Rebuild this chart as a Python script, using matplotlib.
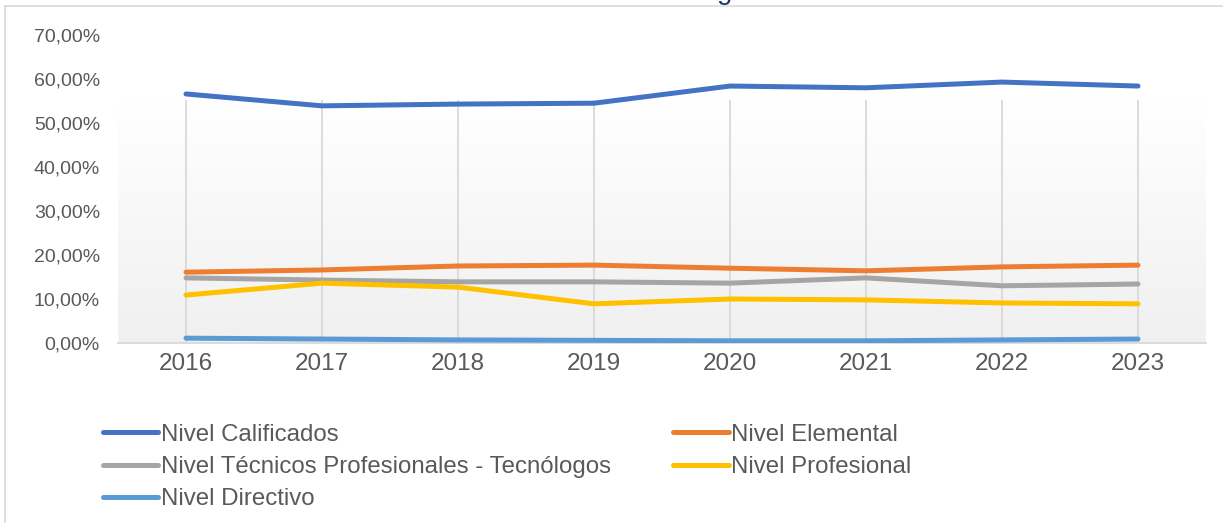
import numpy as np
import matplotlib
matplotlib.use('Agg')
import matplotlib.pyplot as plt
from matplotlib.ticker import FuncFormatter, MultipleLocator

# datos (fracciones)
years = ["2016", "2017", "2018", "2019", "2020", "2021", "2022", "2023"]
calificados = [0.566, 0.539, 0.543, 0.545, 0.584, 0.580, 0.593, 0.584]
elemental = [0.161, 0.166, 0.175, 0.177, 0.170, 0.164, 0.173, 0.177]
tecnicos = [0.148, 0.143, 0.139, 0.139, 0.136, 0.148, 0.130, 0.134]
profesional = [0.109, 0.136, 0.127, 0.089, 0.100, 0.098, 0.091, 0.089]
directivo = [0.011, 0.009, 0.007, 0.006, 0.005, 0.005, 0.007, 0.009]

plt.rcParams['font.family'] = ['Liberation Sans', 'DejaVu Sans']
TXT = '#595959'

fig = plt.figure(figsize=(12.23, 5.23), dpi=100)
ax = fig.add_axes([118 / 1223, 1 - 343 / 523, (1206 - 118) / 1223, (343 - 35) / 523])

x = np.arange(len(years))
ax.set_xlim(-0.5, len(years) - 0.5)
ax.set_ylim(0, 0.70)

# fondo degradado (solo cubre la parte baja, como en el original)
grad_top = 0.552
grad = np.linspace(1.0, 0.0, 100).reshape(-1, 1)
ax.imshow(grad, extent=(-0.5, len(years) - 0.5, 0, grad_top), aspect='auto',
          cmap=matplotlib.colors.LinearSegmentedColormap.from_list('g', ['#f0f0f0', '#ffffff']),
          vmin=0, vmax=1, zorder=0, origin='upper')
ax.vlines(x, 0, grad_top, color='#d9d9d9', lw=1.3, zorder=1)

series = [
    ("Nivel Calificados", calificados, '#4472C4'),
    ("Nivel Elemental", elemental, '#ED7D31'),
    ("Nivel Técnicos Profesionales - Tecnólogos", tecnicos, '#A5A5A5'),
    ("Nivel Profesional", profesional, '#FFC000'),
    ("Nivel Directivo", directivo, '#5B9BD5'),
]
handles = {}
for name, vals, col in series:
    ln, = ax.plot(x, vals, color=col, lw=3.6, solid_capstyle='round', zorder=3, label=name)
    handles[name] = ln

for s in ['top', 'right', 'left']:
    ax.spines[s].set_visible(False)
ax.spines['bottom'].set_color('#d9d9d9')
ax.spines['bottom'].set_linewidth(1.3)

ax.set_xticks(x)
ax.set_xticklabels(years)
ax.yaxis.set_major_locator(MultipleLocator(0.10))
ax.yaxis.set_major_formatter(FuncFormatter(lambda v, p: f"{v * 100:.2f}%".replace('.', ',')))
ax.tick_params(axis='y', length=0, labelsize=14, labelcolor=TXT, pad=13)
ax.tick_params(axis='x', length=0, labelsize=17.5, labelcolor=TXT, pad=7)

order = ["Nivel Calificados", "Nivel Técnicos Profesionales - Tecnólogos", "Nivel Directivo",
         "Nivel Elemental", "Nivel Profesional"]
leg = fig.legend([handles[n] for n in order], order, ncol=2, loc='upper left',
                 bbox_to_anchor=(81 / 1223, 1 - 402 / 523), frameon=False,
                 fontsize=17.3, handlelength=2.3, handletextpad=0.12,
                 columnspacing=2.6, labelspacing=0.43, labelcolor=TXT)

# borde exterior y título recortado
fig.add_artist(plt.Line2D([5 / 1223, 1], [1 - 6 / 523, 1 - 6 / 523], color='#d9d9d9', lw=1.2))
fig.add_artist(plt.Line2D([5 / 1223, 5 / 1223], [0, 1 - 6 / 523], color='#d9d9d9', lw=1.2))
fig.text(725 / 1223, 1 + 1 / 523, "g", color='#1f3864', fontsize=20, ha='center', va='baseline')

fig.savefig('out.png', dpi=100)
